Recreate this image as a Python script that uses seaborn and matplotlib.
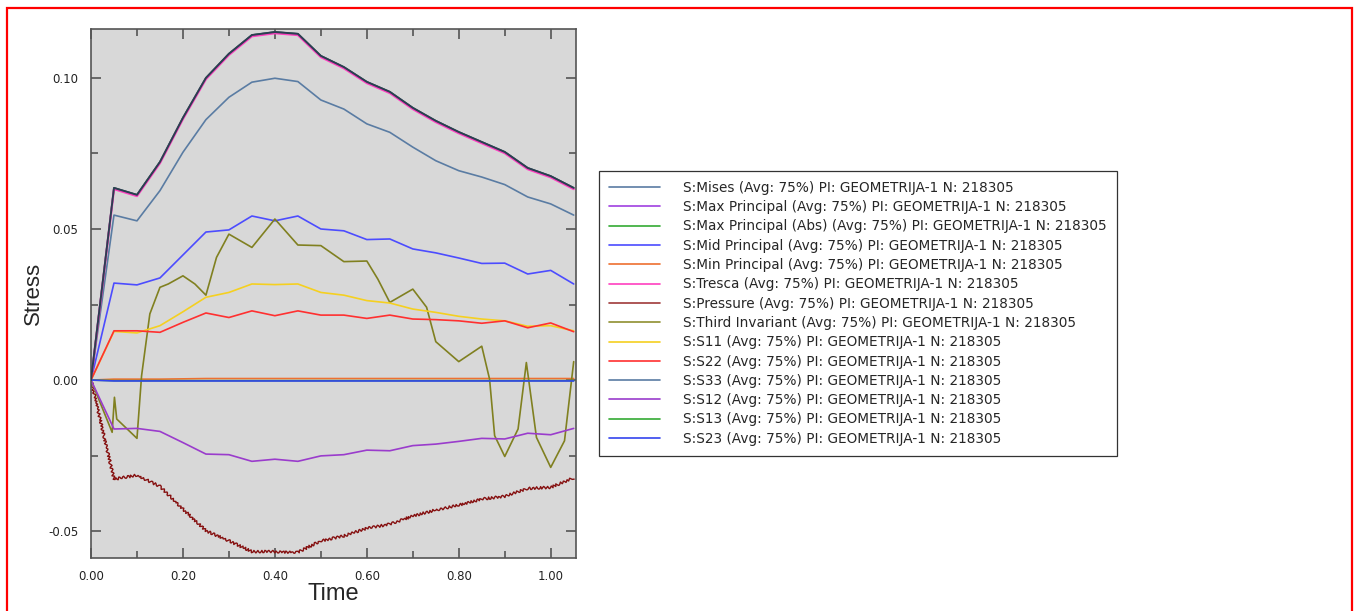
import matplotlib
matplotlib.use("Agg")
import matplotlib.pyplot as plt
import matplotlib.ticker as mticker
import matplotlib.transforms as mtransforms
from matplotlib.patches import Rectangle
import seaborn as sns

# time increments (s)
time = [0.00, 0.05, 0.10, 0.15, 0.20, 0.25, 0.30, 0.35, 0.40, 0.45, 0.50,
        0.55, 0.60, 0.65, 0.70, 0.75, 0.80, 0.85, 0.90, 0.95, 1.00, 1.05]

max_principal = [0, 0.0636, 0.0613, 0.0722, 0.0868, 0.1000, 0.1080, 0.1142, 0.1152, 0.1146, 0.1073,
                 0.1036, 0.0987, 0.0954, 0.0901, 0.0858, 0.0821, 0.0788, 0.0755, 0.0702, 0.0675, 0.0636]
max_principal_abs = [0, 0.0636, 0.0613, 0.0722, 0.0868, 0.1000, 0.1080, 0.1142, 0.1152, 0.1146, 0.1073,
                     0.1036, 0.0987, 0.0954, 0.0901, 0.0858, 0.0821, 0.0788, 0.0755, 0.0702, 0.0675, 0.0636]
tresca = [0, 0.0636, 0.0613, 0.0722, 0.0868, 0.1000, 0.1080, 0.1142, 0.1152, 0.1146, 0.1073,
          0.1036, 0.0987, 0.0954, 0.0901, 0.0858, 0.0821, 0.0788, 0.0755, 0.0702, 0.0675, 0.0636]
s33 = [0, 0.0636, 0.0613, 0.0722, 0.0868, 0.1000, 0.1080, 0.1142, 0.1152, 0.1146, 0.1073,
       0.1036, 0.0987, 0.0954, 0.0901, 0.0858, 0.0821, 0.0788, 0.0755, 0.0702, 0.0675, 0.0636]
mises = [0, 0.0546, 0.0527, 0.0627, 0.0754, 0.0862, 0.0936, 0.0986, 0.0999, 0.0988, 0.0927,
         0.0897, 0.0848, 0.0820, 0.0771, 0.0726, 0.0693, 0.0672, 0.0647, 0.0606, 0.0583, 0.0546]
mid_principal = [0, 0.0321, 0.0315, 0.0338, 0.0414, 0.0490, 0.0497, 0.0543, 0.0527, 0.0543, 0.0500,
                 0.0494, 0.0465, 0.0467, 0.0434, 0.0421, 0.0404, 0.0386, 0.0387, 0.0351, 0.0363, 0.0318]
min_principal = [0, 0.0003, 0.0003, 0.0003, 0.0004, 0.0005, 0.0005, 0.0005, 0.0005, 0.0005, 0.0005,
                 0.0005, 0.0005, 0.0005, 0.0005, 0.0005, 0.0005, 0.0005, 0.0005, 0.0005, 0.0005, 0.0005]
pressure = [0, -0.0328, -0.0315, -0.0352, -0.0427, -0.0499, -0.0532, -0.0568, -0.0568, -0.0570, -0.0532,
            -0.0516, -0.0491, -0.0477, -0.0450, -0.0430, -0.0414, -0.0394, -0.0385, -0.0359, -0.0355, -0.0324]
s11 = [0, 0.0161, 0.0156, 0.0180, 0.0226, 0.0274, 0.0290, 0.0318, 0.0316, 0.0318, 0.0290,
       0.0281, 0.0263, 0.0255, 0.0235, 0.0224, 0.0211, 0.0202, 0.0196, 0.0178, 0.0180, 0.0163]
s22 = [0, 0.0163, 0.0163, 0.0158, 0.0191, 0.0222, 0.0207, 0.0229, 0.0213, 0.0229, 0.0215,
       0.0215, 0.0204, 0.0215, 0.0202, 0.0200, 0.0196, 0.0188, 0.0196, 0.0173, 0.0189, 0.0160]
s12 = [0, -0.0162, -0.0160, -0.0170, -0.0207, -0.0245, -0.0247, -0.0269, -0.0262, -0.0269, -0.0251,
       -0.0247, -0.0232, -0.0234, -0.0217, -0.0212, -0.0203, -0.0193, -0.0195, -0.0176, -0.0181, -0.0160]
s13 = [0, -0.0002, -0.0002, -0.0002, -0.0002, -0.0002, -0.0002, -0.0002, -0.0002, -0.0002, -0.0002,
       -0.0002, -0.0002, -0.0002, -0.0002, -0.0002, -0.0002, -0.0002, -0.0002, -0.0002, -0.0002, -0.0002]
s23 = [0, -0.0003, -0.0003, -0.0003, -0.0003, -0.0003, -0.0003, -0.0003, -0.0003, -0.0003, -0.0003,
       -0.0003, -0.0003, -0.0003, -0.0003, -0.0003, -0.0003, -0.0003, -0.0003, -0.0003, -0.0003, -0.0003]

# third invariant has its own (finer) time points
time_inv = [0.0, 0.046, 0.051, 0.056, 0.10, 0.11, 0.128, 0.15, 0.168, 0.20, 0.226, 0.25, 0.273, 0.30,
            0.35, 0.40, 0.45, 0.50, 0.55, 0.60, 0.624, 0.65, 0.70, 0.73, 0.75, 0.80, 0.85, 0.867,
            0.878, 0.90, 0.929, 0.947, 0.969, 1.00, 1.03, 1.05]
third_inv = [0.0, -0.0173, -0.0057, -0.0129, -0.0193, 0.0014, 0.0219, 0.0307, 0.0318, 0.0345, 0.0318,
             0.0281, 0.0406, 0.0483, 0.0439, 0.0533, 0.0447, 0.0445, 0.0392, 0.0394, 0.0334, 0.0257,
             0.0301, 0.0241, 0.0127, 0.0061, 0.0112, 0.0003, -0.0184, -0.0253, -0.0162, 0.0058,
             -0.0190, -0.0289, -0.0201, 0.0061]

suffix = " (Avg: 75%) PI: GEOMETRIJA-1 N: 218305"
series = [
    ("S:Mises", time, mises, "#5a7ca3"),
    ("S:Max Principal", time, max_principal, "#a040e0"),
    ("S:Max Principal (Abs)", time, max_principal_abs, "#33aa33"),
    ("S:Mid Principal", time, mid_principal, "#4c4cff"),
    ("S:Min Principal", time, min_principal, "#ee7030"),
    ("S:Tresca", time, tresca, "#ff40c0"),
    ("S:Pressure", time, pressure, "#a03a3a"),
    ("S:Third Invariant", time_inv, third_inv, "#8f8f30"),
    ("S:S11", time, s11, "#f5d020"),
    ("S:S22", time, s22, "#ff3030"),
    ("S:S33", time, s33, "#5a7ca3"),
    ("S:S12", time, s12, "#9a3ccc"),
    ("S:S13", time, s13, "#33aa33"),
    ("S:S23", time, s23, "#3344ee"),
]
# colour actually seen on the plot where it differs from the legend swatch
plot_color = {"S:Pressure": "#850f0f", "S:S33": "#2c3e52", "S:Third Invariant": "#808020"}

sns.set_style("ticks")
plt.rcParams["font.family"] = ["DejaVu Sans"]

fig = plt.figure(figsize=(13.59, 6.11), dpi=100)
ax = fig.add_axes([91 / 1359, 1 - 558 / 611, (576 - 91) / 1359, (558 - 29) / 611])
ax.set_facecolor("#d8d8d8")

for name, x, y, c in series:
    kw = dict(lw=1.2, zorder=2)
    if name == "S:Tresca":
        kw["transform"] = mtransforms.offset_copy(ax.transData, fig=fig, y=-1.2, units="dots")
        kw["lw"] = 1.6
    if name == "S:S33":
        kw["zorder"] = 3
        kw["lw"] = 1.4
    if name == "S:Pressure":
        kw["lw"] = 1.0
    sns.lineplot(x=x, y=y, ax=ax, color=plot_color.get(name, c), label=name + suffix, **kw)
    if name == "S:Pressure":
        ax.lines[-1].set_sketch_params(scale=1.3, length=4, randomness=2)

ax.set_xlim(0, 1.055)
ax.set_ylim(-0.0589, 0.1162)
ax.xaxis.set_major_locator(mticker.MultipleLocator(0.2))
ax.xaxis.set_minor_locator(mticker.MultipleLocator(0.1))
ax.yaxis.set_major_locator(mticker.MultipleLocator(0.05))
ax.yaxis.set_minor_locator(mticker.MultipleLocator(0.025))
ax.xaxis.set_major_formatter(mticker.FormatStrFormatter("%.2f"))
ax.yaxis.set_major_formatter(mticker.FormatStrFormatter("%.2f"))
ax.tick_params(which="both", direction="in", top=True, right=True, color="#555555",
               labelsize=8.5, labelcolor="#222222", pad=9)
ax.tick_params(which="major", length=7, width=1.2)
ax.tick_params(which="minor", length=5, width=1.2)
for sp in ax.spines.values():
    sp.set_color("#555555")
    sp.set_linewidth(1.2)

ax.set_xlabel("Time", fontsize=17, family=["Liberation Sans"], labelpad=0)
ax.set_ylabel("Stress", fontsize=16, family=["Liberation Sans"], labelpad=3)

leg = ax.legend(loc="upper left", bbox_to_anchor=(599 / 1359, 1 - 171 / 611),
                bbox_transform=fig.transFigure, borderaxespad=0, fontsize=9.8,
                frameon=True, fancybox=False, framealpha=1, edgecolor="#333333",
                handlelength=3.75, handletextpad=1.7, labelspacing=0.39,
                borderpad=0.72)
leg.get_frame().set_linewidth(0.9)
for h, (name, x, y, c) in zip(leg.legend_handles, series):
    h.set_color(c)
    h.set_linewidth(1.2)
    h.set_sketch_params(None)

fig.add_artist(Rectangle((7 / 1359, -0.05), (1352 - 7) / 1359, 1 - 8 / 611 + 0.05,
                         transform=fig.transFigure, fill=False, edgecolor="red", lw=1.6))

fig.savefig("out.png", dpi=100)
